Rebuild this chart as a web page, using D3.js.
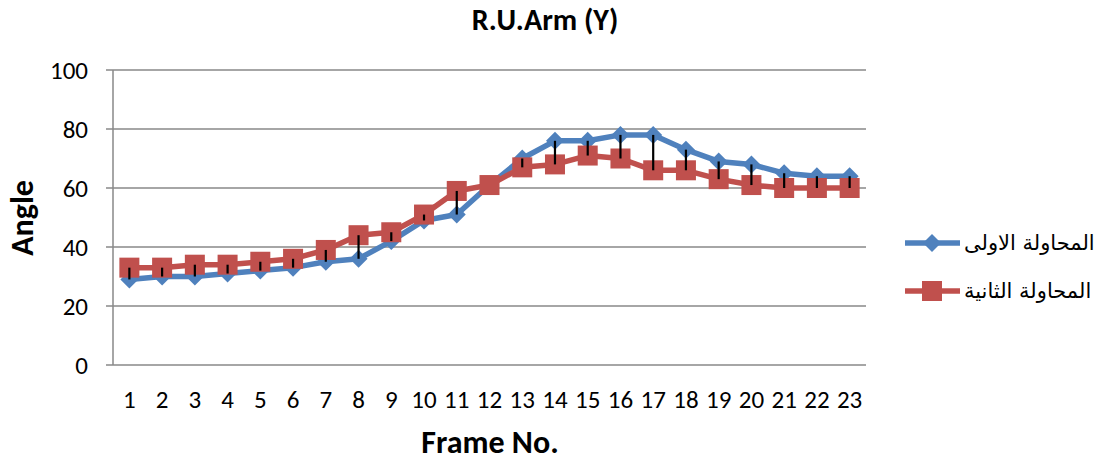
<!DOCTYPE html>
<html>
<head>
<meta charset="utf-8">
<script src="https://cdn.jsdelivr.net/npm/d3@7"></script>
<style>
  body { margin: 0; background: #fff; }
  text { font-family: Carlito, "Liberation Sans", sans-serif; fill: #000; }
</style>
</head>
<body>
<div id="chart"></div>
<script>
const frames = d3.range(1, 24).map(String);
const trial1 = [29, 30, 30, 31, 32, 33, 35, 36, 42, 49, 51, 61, 70, 76, 76, 78, 78, 73, 69, 68, 65, 64, 64];
const trial2 = [33, 33, 34, 34, 35, 36, 39, 44, 45, 51, 59, 61, 67, 68, 71, 70, 66, 66, 63, 61, 60, 60, 60];
const yTicks = [0, 20, 40, 60, 80, 100];
const seriesNames = ["المحاولة الاولى", "المحاولة الثانية"];

const W = 1099, H = 462;
const margin = { top: 70, right: 233, bottom: 97, left: 113 };
const width = W - margin.left - margin.right;
const height = H - margin.top - margin.bottom;

const blue = "#4F81BD", red = "#C0504D", grid = "#898989";

const svg = d3.select("#chart").append("svg")
  .attr("width", W).attr("height", H);

const g = svg.append("g")
  .attr("transform", `translate(${margin.left}, ${margin.top})`);

const x = d3.scaleBand().domain(frames).range([0, width]);
const y = d3.scaleLinear().domain([0, 100]).range([height, 0]);
const cx = d => x(d) + x.bandwidth() / 2;

// grid lines
g.selectAll(".grid").data(yTicks).enter().append("line")
  .attr("x1", -7).attr("x2", width)
  .attr("y1", d => y(d)).attr("y2", d => y(d))
  .attr("stroke", grid).attr("stroke-width", 1.5);

// y axis line
g.append("line")
  .attr("x1", 0).attr("x2", 0).attr("y1", 0).attr("y2", height)
  .attr("stroke", grid).attr("stroke-width", 1.5);

// y tick labels
g.selectAll(".ytick").data(yTicks).enter().append("text")
  .attr("x", -25).attr("y", d => y(d)).attr("dy", "0.35em")
  .attr("text-anchor", "end").style("font-size", "25px")
  .text(d => d);

// x tick labels
g.selectAll(".xtick").data(frames).enter().append("text")
  .attr("x", d => cx(d)).attr("y", height + 43)
  .attr("text-anchor", "middle").style("font-size", "25px")
  .text(d => d);

const line = d3.line()
  .x((d, i) => cx(frames[i]))
  .y(d => y(d));

g.append("path").datum(trial1)
  .attr("fill", "none").attr("stroke", blue).attr("stroke-width", 5.5)
  .attr("stroke-linejoin", "round").attr("d", line);

g.append("path").datum(trial2)
  .attr("fill", "none").attr("stroke", red).attr("stroke-width", 5.5)
  .attr("stroke-linejoin", "round").attr("d", line);

const diamond = (px, py, r) => `M${px},${py - r}L${px + r},${py}L${px},${py + r}L${px - r},${py}Z`;

g.selectAll(".m1").data(trial1).enter().append("path")
  .attr("d", (d, i) => diamond(cx(frames[i]), y(d), 9))
  .attr("fill", blue);

g.selectAll(".m2").data(trial2).enter().append("rect")
  .attr("x", (d, i) => cx(frames[i]) - 10)
  .attr("y", d => y(d) - 10)
  .attr("width", 20).attr("height", 20)
  .attr("fill", red);

// high-low lines
g.selectAll(".hl").data(frames).enter().append("line")
  .attr("x1", d => cx(d)).attr("x2", d => cx(d))
  .attr("y1", (d, i) => y(trial1[i])).attr("y2", (d, i) => y(trial2[i]))
  .attr("stroke", "#000").attr("stroke-width", 2.2);

// titles
svg.append("text")
  .attr("x", 545).attr("y", 30).attr("text-anchor", "middle")
  .style("font-size", "30px").style("font-weight", "bold")
  .text("R.U.Arm (Y)");

svg.append("text")
  .attr("x", 490).attr("y", 453).attr("text-anchor", "middle")
  .style("font-size", "32px").style("font-weight", "bold")
  .text("Frame No.");

svg.append("text")
  .attr("transform", "translate(33, 218) rotate(-90)")
  .attr("text-anchor", "middle")
  .style("font-size", "32px").style("font-weight", "bold")
  .text("Angle");

// legend
const legend = svg.append("g");
const legendItems = [
  { name: seriesNames[0], color: blue, shape: "diamond", y: 243 },
  { name: seriesNames[1], color: red, shape: "square", y: 291 }
];
legendItems.forEach(item => {
  legend.append("line")
    .attr("x1", 905).attr("x2", 960).attr("y1", item.y).attr("y2", item.y)
    .attr("stroke", item.color).attr("stroke-width", 5.5);
  if (item.shape === "diamond") {
    legend.append("path").attr("d", diamond(932, item.y, 9)).attr("fill", item.color);
  } else {
    legend.append("rect").attr("x", 922).attr("y", item.y - 10)
      .attr("width", 20).attr("height", 20).attr("fill", item.color);
  }
  legend.append("text")
    .attr("x", 964).attr("y", item.y).attr("dy", "0.35em")
    .attr("text-anchor", "start")
    .style("font-family", "'DejaVu Sans', sans-serif")
    .style("font-size", "21px")
    .text(item.name);
});
</script>
</body>
</html>
